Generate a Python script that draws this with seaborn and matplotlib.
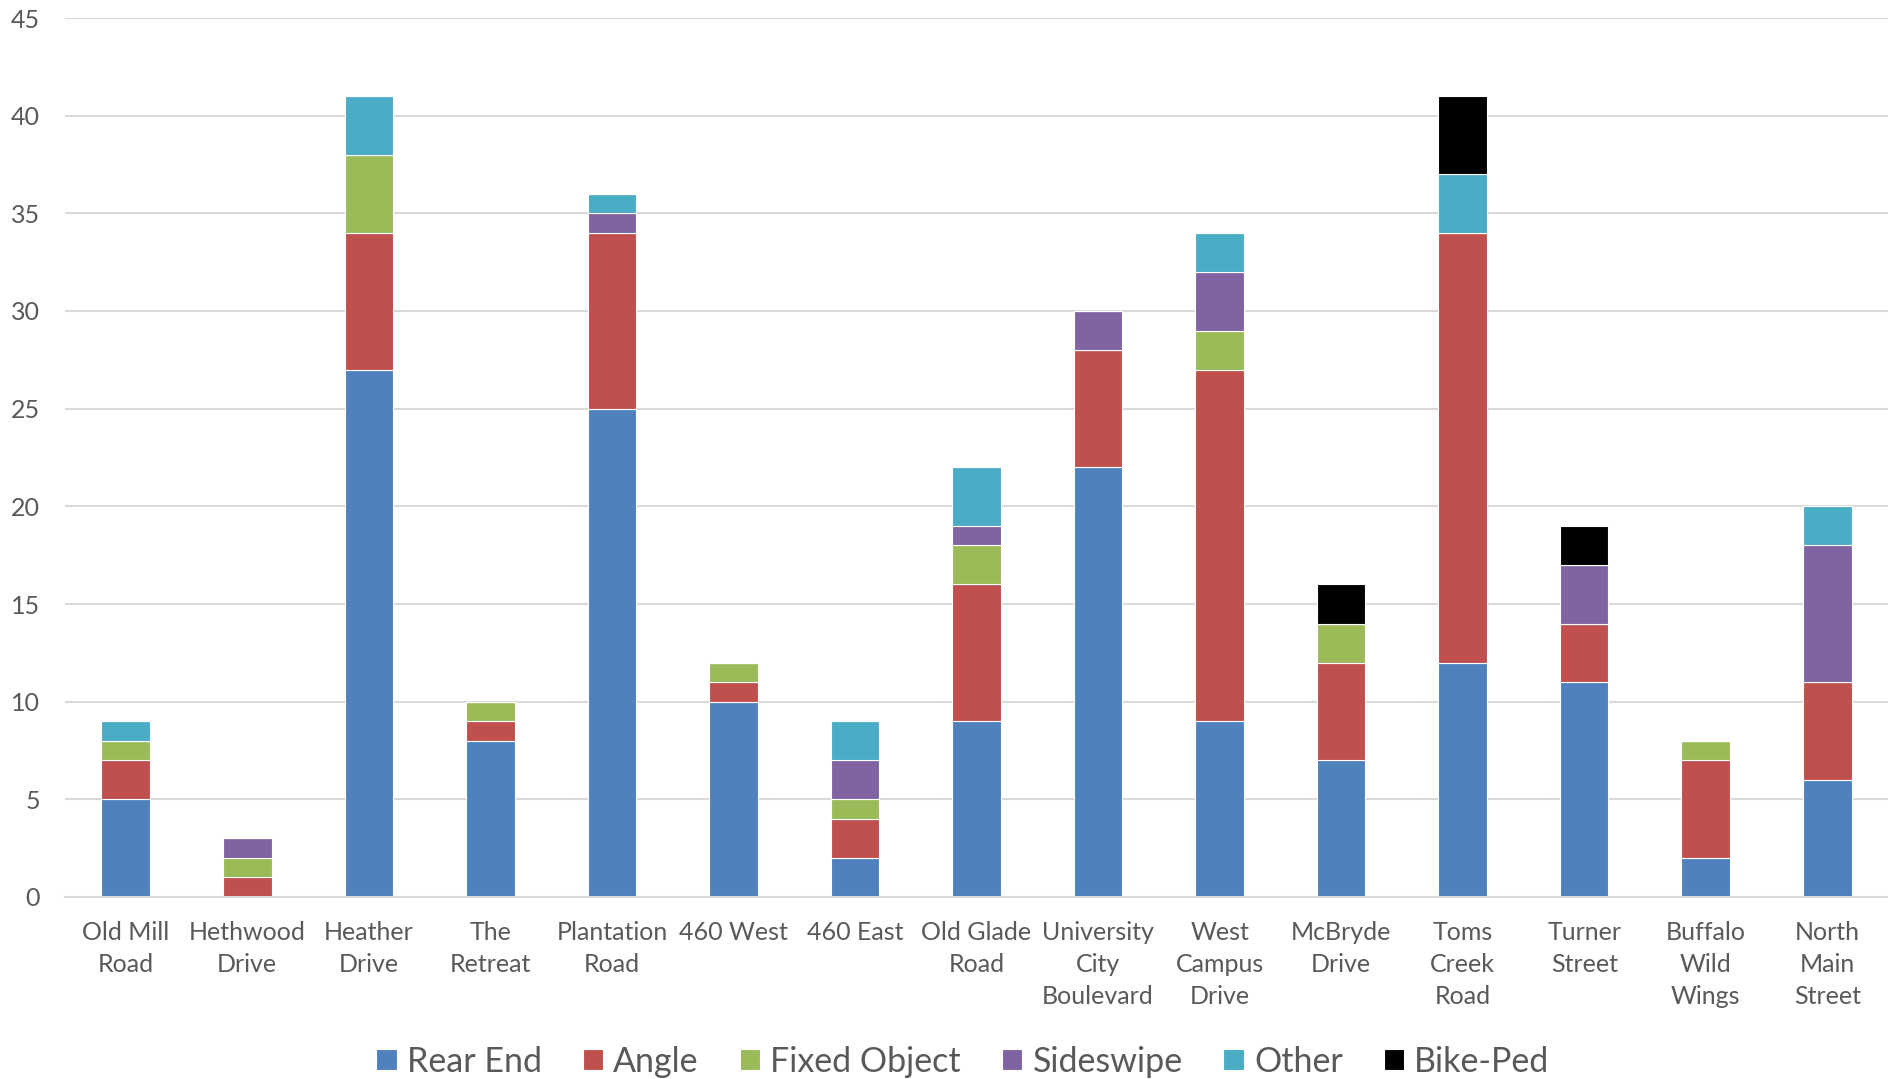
import matplotlib
matplotlib.use("Agg")
import matplotlib.pyplot as plt
import seaborn as sns
import pandas as pd
import numpy as np

categories = ["Old Mill\nRoad", "Hethwood\nDrive", "Heather\nDrive", "The\nRetreat",
              "Plantation\nRoad", "460 West", "460 East", "Old Glade\nRoad",
              "University\nCity\nBoulevard", "West\nCampus\nDrive", "McBryde\nDrive",
              "Toms\nCreek\nRoad", "Turner\nStreet", "Buffalo\nWild\nWings",
              "North\nMain\nStreet"]
rear_end      = [5, 0, 27, 8, 25, 10, 2, 9, 22, 9, 7, 12, 11, 2, 6]
angle         = [2, 1, 7, 1, 9, 1, 2, 7, 6, 18, 5, 22, 3, 5, 5]
fixed_object  = [1, 1, 4, 1, 0, 1, 1, 2, 0, 2, 2, 0, 0, 1, 0]
sideswipe     = [0, 1, 0, 0, 1, 0, 2, 1, 2, 3, 0, 0, 3, 0, 7]
other         = [1, 0, 3, 0, 1, 0, 2, 3, 0, 2, 0, 3, 0, 0, 2]
bike_ped      = [0, 0, 0, 0, 0, 0, 0, 0, 0, 0, 2, 4, 2, 0, 0]
series_names = ["Rear End", "Angle", "Fixed Object", "Sideswipe", "Other", "Bike-Ped"]
series_vals = [rear_end, angle, fixed_object, sideswipe, other, bike_ped]
colors = ["#4F81BD", "#C0504D", "#9BBB59", "#8064A2", "#4BACC6", "#000000"]

sns.set_theme(style="white")
plt.rcParams['font.family'] = ['Lato', 'DejaVu Sans']
txt = "#595959"

fig = plt.figure(figsize=(18.88, 10.79), dpi=100)
ax = fig.add_axes([65/1888, 1-897/1079, 1-65/1888, (897-18)/1079])

bottom = np.zeros(len(categories))
for name, vals, c in zip(series_names, series_vals, colors):
    df = pd.DataFrame({"cat": categories, "val": vals})
    sns.barplot(data=df, x="cat", y="val", order=categories, color=c, ax=ax,
                bottom=bottom, width=0.4, edgecolor="white", linewidth=0.8,
                label=name, saturation=1, errorbar=None)
    bottom = bottom + np.array(vals)

ax.set_xlim(-0.5, len(categories) - 0.5)
ax.set_ylim(0, 45)
ax.set_yticks(range(0, 46, 5))
ax.yaxis.grid(True, color="#D9D9D9", linewidth=1.5)
ax.set_axisbelow(True)
for s in ["top", "right", "left"]:
    ax.spines[s].set_visible(False)
ax.spines["bottom"].set_color("#D9D9D9")
ax.spines["bottom"].set_linewidth(1.5)
ax.set_xlabel("")
ax.set_ylabel("")
ax.tick_params(axis="x", length=0, pad=17, labelsize=18, labelcolor=txt)
ax.tick_params(axis="y", length=0, pad=18, labelsize=18, labelcolor=txt)
for lab in ax.get_xticklabels():
    lab.set_linespacing(1.48)

handles, labels = ax.get_legend_handles_labels()
leg = fig.legend(handles, labels, loc="lower center", bbox_to_anchor=(0.51, -0.027),
                 ncol=6, frameon=False, fontsize=24.5, handlelength=0.6, handleheight=0.6,
                 handletextpad=0.3, columnspacing=1.2, labelcolor=txt)
if ax.get_legend():
    ax.get_legend().remove()

fig.savefig("out.png", dpi=100)
